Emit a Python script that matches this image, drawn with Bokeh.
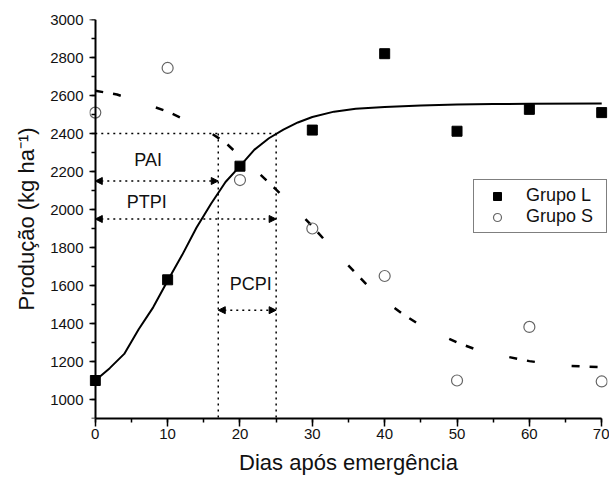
from bokeh.plotting import figure
from bokeh.models import (Legend, LegendItem, Arrow, NormalHead, SingleIntervalTicker, LinearAxis)
from bokeh.core.properties import value
from bokeh.embed import file_html
from bokeh.resources import INLINE

FONT = "Liberation Sans"

# observed data
days = [0, 10, 20, 30, 40, 50, 60, 70]
grupo_l = [1100, 1630, 2228, 2418, 2820, 2412, 2527, 2510]
grupo_s = [2510, 2745, 2155, 1900, 1650, 1100, 1382, 1095]

# fitted curves
fit_l_x = [0, 2, 4, 6, 8, 10, 12, 14, 16, 18, 20, 22, 24, 26, 28, 30, 33, 36, 40, 45, 50, 55, 60, 70]
fit_l_y = [1100, 1165, 1240, 1370, 1485, 1625, 1760, 1905, 2030, 2145, 2228, 2315, 2375, 2420, 2458,
           2487, 2515, 2530, 2540, 2547, 2552, 2555, 2556, 2558]
fit_s_x = [0, 3, 7, 10, 15, 18, 20, 22.5, 25, 27.5, 30, 32.5, 35, 37.5, 40, 42.5, 45, 47.5, 50,
           52.5, 55, 60, 62.5, 65, 70]
fit_s_y = [2625, 2605, 2555, 2515, 2426, 2352, 2280, 2195, 2105, 2010, 1912, 1805, 1705, 1605, 1521,
           1450, 1389, 1345, 1300, 1265, 1240, 1202, 1189, 1178, 1170]

# critical periods
pai = 17
ptpi = 25
y_level = 2400
y_min = 900
y_max = 3000
x_min = 0
x_max = 70
y_pai_arrow = 2150
y_ptpi_arrow = 1950
y_pcpi_arrow = 1470

label_text = ["PAI", "PTPI", "PCPI"]
label_x = [7.3, 7.1, 21.5]
label_y = [2258, 2038, 1608]

p = figure(frame_width=518, frame_height=399, x_range=(-0.8, 70.8), y_range=(y_min, y_max),
           output_backend="svg", toolbar_location=None,
           min_border_left=89, min_border_right=2, min_border_top=19, min_border_bottom=61)
p.xgrid.visible = False
p.ygrid.visible = False
p.outline_line_color = None
p.background_fill_color = "white"
p.border_fill_color = "white"

# y axis drawn at x = 0 (line + ticks only), on the right side panel so it adds no width
yline = LinearAxis(fixed_location=x_min, bounds=(y_min, y_max))
p.add_layout(yline, "right")

for ax, interval in ((p.xaxis[0], 10), (p.yaxis[0], 200), (yline, 200)):
    ax.ticker = SingleIntervalTicker(interval=interval, num_minor_ticks=2)
    ax.axis_line_width = 2
    ax.axis_line_color = "black"
    ax.major_tick_out = 8
    ax.major_tick_in = 0
    ax.minor_tick_out = 4
    ax.minor_tick_in = 0
    ax.major_tick_line_width = 1.5
    ax.minor_tick_line_width = 1.5
    ax.major_tick_line_color = "black"
    ax.minor_tick_line_color = "black"
    ax.major_label_text_font = FONT
    ax.major_label_text_font_size = "15px"
    ax.major_label_text_color = "#111111"
    ax.axis_label_text_font = FONT
    ax.axis_label_text_font_size = "22px"
    ax.axis_label_text_font_style = "normal"
    ax.axis_label_text_color = "#111111"

p.xaxis[0].bounds = (x_min, x_max)
p.xaxis[0].major_label_standoff = 2
p.xaxis[0].axis_label = "Dias após emergência"
p.xaxis[0].axis_label_standoff = 8

# left axis: labels only
yl = p.yaxis[0]
yl.axis_line_color = None
yl.major_tick_line_color = None
yl.minor_tick_line_color = None
yl.major_tick_out = 2
yl.minor_tick_out = 0
yl.major_label_standoff = 4
yl.axis_label = "Produção (kg ha⁻¹)"
yl.axis_label_standoff = 8

# right-panel axis placed at x = 0: line + ticks pointing left, no labels
yline.major_tick_in = 8
yline.major_tick_out = 0
yline.minor_tick_in = 4
yline.minor_tick_out = 0
yline.major_label_text_font_size = "0px"
yline.major_label_text_color = None
yline.major_label_standoff = 0

# guide lines (dotted)
p.segment(x0=[x_min, pai, ptpi], y0=[y_level, y_level, y_level],
          x1=[ptpi, pai, ptpi], y1=[y_level, y_min, y_min],
          line_color="black", line_width=1.5, line_dash="dotted")

for xs, xe, yy in ((x_min, pai, y_pai_arrow), (x_min, ptpi, y_ptpi_arrow), (pai, ptpi, y_pcpi_arrow)):
    p.add_layout(Arrow(x_start=xs, y_start=yy, x_end=xe, y_end=yy,
                       start=NormalHead(size=7, fill_color="black", line_color="black", line_width=1),
                       end=NormalHead(size=7, fill_color="black", line_color="black", line_width=1),
                       line_color="black", line_width=1.5, line_dash="dotted"))

# fitted curves
p.line(fit_l_x, fit_l_y, line_color="black", line_width=2)
p.line(fit_s_x, fit_s_y, line_color="black", line_width=2.5, line_dash="8 10 8 37")

# observed points
r_l = p.scatter(days, grupo_l, marker="square", size=10, fill_color="black", line_color="black")
r_s = p.scatter(days, grupo_s, marker="circle", size=11, fill_color=None, line_color="#666666",
                line_width=1.2)

p.text(x=label_x, y=label_y, text=label_text, text_font=value(FONT), text_font_size="18px",
       text_align="center", text_baseline="middle", text_color="#111111")

legend = Legend(items=[LegendItem(label="Grupo L", renderers=[r_l]),
                       LegendItem(label="Grupo S", renderers=[r_s])],
                location=(384, 185), border_line_color="black", border_line_width=1,
                padding=5, spacing=0, glyph_width=36, glyph_height=20, label_standoff=11,
                label_width=75, label_text_font=FONT, label_text_font_size="18px",
                label_text_color="#111111", margin=0, background_fill_alpha=1)
p.add_layout(legend)

open("out.html", "w").write(file_html(p, INLINE))
